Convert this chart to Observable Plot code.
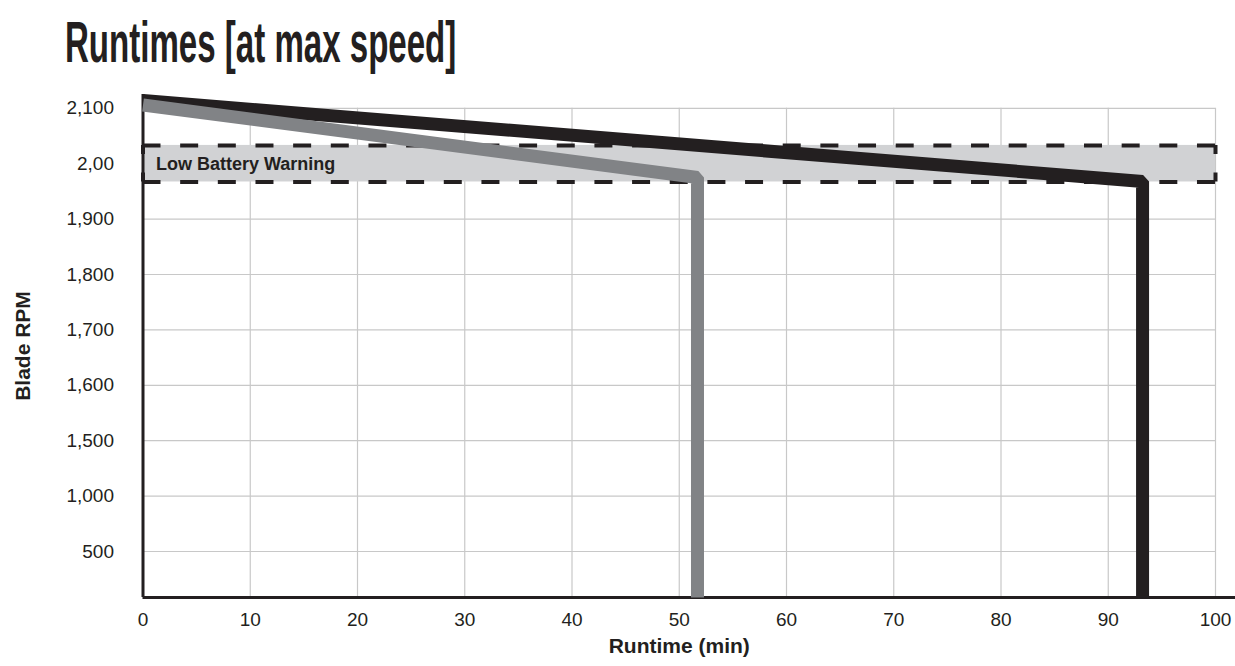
<!DOCTYPE html>
<html>
<head>
<meta charset="utf-8">
<script src="https://cdn.jsdelivr.net/npm/d3@7"></script>
<script src="https://cdn.jsdelivr.net/npm/@observablehq/plot@0.6"></script>
<style>
  html, body { margin: 0; padding: 0; background: #fff; }
  #wrap { position: relative; width: 1235px; height: 666px; overflow: hidden; }
  #title {
    position: absolute; left: 65px; top: 10px;
    font-family: "Liberation Sans", Arial, sans-serif;
    font-weight: bold; font-size: 58px; line-height: 64px; color: #231f20;
    transform: scaleX(0.57); transform-origin: left top;
    white-space: nowrap;
  }
  #chart { position: absolute; left: 0; top: 0; }
</style>
</head>
<body>
<div id="wrap">
  <div id="chart"></div>
  <div id="title">Runtimes [at max speed]</div>
</div>
<script>
// ---- data ----
const xTicks = [0, 10, 20, 30, 40, 50, 60, 70, 80, 90, 100];
const yTicks = [500, 1000, 1500, 1600, 1700, 1800, 1900, 2000, 2100];
const yTickLabels = ["500", "1,000", "1,500", "1,600", "1,700", "1,800", "1,900", "2,00", "2,100"];

const blackRuntime = [0, 93.2, 93.2];
const blackRPM     = [2114, 1968, 0];
const grayRuntime  = [0, 51.7, 51.7];
const grayRPM      = [2106, 1975, 0];

const warningLow = 1967;
const warningHigh = 2033;
const warningLabel = "Low Battery Warning";

// ---- build tables ----
const black = blackRuntime.map((x, i) => ({x, y: blackRPM[i]}));
const gray = grayRuntime.map((x, i) => ({x, y: grayRPM[i]}));
const band = [{x1: 0, x2: 100, y1: warningLow, y2: warningHigh, label: warningLabel}];
const labelOf = new Map(yTicks.map((v, i) => [v, yTickLabels[i]]));

// piecewise (broken) y axis: evenly spaced ticks
const W = 1235, H = 666;
const bottomPx = 597, topTickPx = 107.8, step = 55.4;
const yDomain = [0, ...yTicks, 2125];
const yRange = [bottomPx,
  ...yTicks.map((_, i) => topTickPx + (yTicks.length - 1 - i) * step),
  topTickPx - 25 / 100 * step];

const ink = "#231f20";
const gridC = "#c8c8c8";
const dashH = "18,19.66";
const dashV = "9,18.6";

const plot = Plot.plot({
  width: W,
  height: H,
  marginLeft: 142.5,
  marginRight: 20,
  marginTop: 94,
  marginBottom: H - bottomPx,
  style: {fontFamily: "'Liberation Sans', Arial, sans-serif", fontSize: "19px", color: ink, background: "#fff"},
  x: {type: "linear", domain: [0, 100]},
  y: {type: "linear", domain: yDomain, range: yRange},
  marks: [
    // grid
    Plot.ruleY(yTicks, {x1: 0, x2: 100, stroke: gridC, strokeWidth: 1.2}),
    Plot.ruleX(xTicks.slice(1), {y1: 0, y2: 2100, stroke: gridC, strokeWidth: 1.2}),
    // low battery band
    Plot.rect(band, {x1: "x1", x2: "x2", y1: "y1", y2: "y2", fill: "#d1d2d4"}),
    Plot.ruleY(band, {y: "y1", x1: "x1", x2: "x2", stroke: ink, strokeWidth: 4, strokeDasharray: dashH}),
    Plot.ruleY(band, {y: "y2", x1: "x1", x2: "x2", stroke: ink, strokeWidth: 4, strokeDasharray: dashH}),
    Plot.ruleX(band, {x: "x1", y1: "y2", y2: "y1", stroke: ink, strokeWidth: 4, strokeDasharray: dashV}),
    Plot.ruleX(band, {x: "x2", y1: "y2", y2: "y1", stroke: ink, strokeWidth: 4, strokeDasharray: dashV}),
    Plot.text(band, {x: "x1", y: d => (d.y1 + d.y2) / 2, text: "label", textAnchor: "start", dx: 13, dy: 1,
      fontWeight: "bold", fontSize: 18, fill: ink}),
    // axes lines
    Plot.ruleX([0], {y1: 0, y2: 2125, stroke: ink, strokeWidth: 3}),
    Plot.ruleY([0], {x1: 0, x2: 102, stroke: ink, strokeWidth: 3}),
    // series
    Plot.line(black, {x: "x", y: "y", stroke: ink, strokeWidth: 13, strokeLinecap: "butt", strokeLinejoin: "miter"}),
    Plot.line(gray, {x: "x", y: "y", stroke: "#818386", strokeWidth: 13, strokeLinecap: "butt", strokeLinejoin: "miter"}),
    // axes
    Plot.axisX(xTicks, {tickSize: 0, tickPadding: 15, label: null, fontSize: 19, fill: ink}),
    Plot.axisY(yTicks, {tickSize: 0, tickPadding: 29, label: null, tickFormat: d => labelOf.get(d), fontSize: 19, fill: ink}),
    // axis titles
    Plot.text(["Runtime (min)"], {frameAnchor: "bottom", dy: 55, text: d => d, textAnchor: "middle",
      fontWeight: "bold", fontSize: 21, fill: ink}),
    Plot.text(["Blade RPM"], {frameAnchor: "left", dx: -120, dy: 0, rotate: -90, text: d => d, textAnchor: "middle",
      fontWeight: "bold", fontSize: 21, fill: ink})
  ]
});
document.getElementById("chart").appendChild(plot);
</script>
</body>
</html>
